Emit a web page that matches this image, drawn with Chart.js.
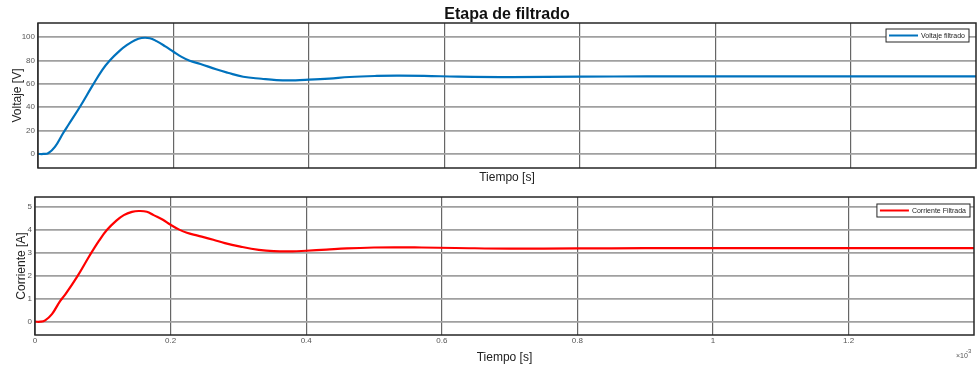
<!DOCTYPE html>
<html>
<head>
<meta charset="utf-8">
<script src="https://cdn.jsdelivr.net/npm/chart.js@4.4.1/dist/chart.umd.min.js"></script>
<style>
  html, body { margin: 0; padding: 0; background: #fff; }
  #wrap { position: relative; width: 977px; height: 368px; }
  #c1 { position: absolute; left: 0; top: 0; }
  #c2 { position: absolute; left: 0; top: 185px; }
</style>
</head>
<body>
<div id="wrap">
  <canvas id="c1" width="977" height="185"></canvas>
  <canvas id="c2" width="977" height="183"></canvas>
</div>
<script>
// tiempo en ms (el eje muestra x10^-3 s)
const tiempo = [0, 0.008, 0.015, 0.025, 0.037, 0.045, 0.062, 0.08, 0.095, 0.106, 0.12, 0.131, 0.143, 0.153,
    0.165, 0.175, 0.188, 0.2, 0.212, 0.224, 0.24, 0.263, 0.28, 0.303, 0.33, 0.352, 0.38, 0.4, 0.43, 0.46,
    0.5, 0.53, 0.57, 0.62, 0.7, 0.8, 0.9, 1.0, 1.1, 1.2, 1.3, 1.385];
const voltaje = [0, 0, 0.6, 6, 17.7, 25, 40.4, 58, 72, 80, 88, 93, 97.3, 99.2,
    99, 96.5, 92, 87.4, 83, 79.7, 77, 72.4, 69.5, 66, 64.3, 63.2, 63, 63.5, 64.5, 65.8,
    66.7, 67, 66.8, 66.1, 65.7, 66.1, 66.3, 66.3, 66.3, 66.3, 66.3, 66.3];
const corriente = [0, 0, 0.06, 0.33, 0.9, 1.2, 1.95, 2.85, 3.55, 3.99, 4.4, 4.64, 4.78, 4.82,
    4.79, 4.64, 4.45, 4.22, 4.02, 3.87, 3.75, 3.57, 3.42, 3.27, 3.13, 3.07, 3.06, 3.09, 3.14, 3.19,
    3.23, 3.24, 3.23, 3.21, 3.18, 3.19, 3.2, 3.2, 3.2, 3.2, 3.2, 3.2];
const xTicks = [0, 0.2, 0.4, 0.6, 0.8, 1, 1.2];
const vTicks = [0, 20, 40, 60, 80, 100];
const iTicks = [0, 1, 2, 3, 4, 5];

const FONT = "'Liberation Sans', Arial, Helvetica, sans-serif";

// marco completo + leyenda dentro del area
const boxPlugin = {
    id: 'boxPlugin',
    afterDraw(chart, args, opts) {
        const ctx = chart.ctx;
        const a = chart.chartArea;
        ctx.save();
        ctx.strokeStyle = '#262626';
        ctx.lineWidth = 1.5;
        ctx.strokeRect(a.left, a.top, a.right - a.left, a.bottom - a.top);

        // leyenda
        const ds = chart.data.datasets[0];
        ctx.font = '7px ' + FONT;
        const tw = ctx.measureText(ds.label).width;
        const w = 3 + 29 + 3 + tw + 4;
        const h = 13;
        const x = a.right - opts.right - w;
        const y = a.top + opts.top;
        ctx.fillStyle = '#fff';
        ctx.fillRect(x, y, w, h);
        ctx.lineWidth = 1;
        ctx.strokeStyle = '#262626';
        ctx.strokeRect(x, y, w, h);
        ctx.strokeStyle = ds.borderColor;
        ctx.lineWidth = 2;
        ctx.beginPath();
        ctx.moveTo(x + 3, y + h / 2);
        ctx.lineTo(x + 32, y + h / 2);
        ctx.stroke();
        ctx.fillStyle = '#222';
        ctx.textBaseline = 'middle';
        ctx.fillText(ds.label, x + 35, y + h / 2 + 0.5);

        if (opts.exponent) {
            ctx.fillStyle = '#555';
            ctx.font = '7px ' + FONT;
            ctx.textBaseline = 'alphabetic';
            ctx.fillText('\u00d710', 956, 173);
            ctx.font = '6px ' + FONT;
            ctx.fillText('-3', 966, 168);
        }
        ctx.restore();
    }
};

function xScale(showLabels, titlePad, height) {
    return {
        type: 'linear',
        min: 0,
        max: 1.385,
        afterBuildTicks: s => { s.ticks = xTicks.map(v => ({ value: v })); },
        ticks: {
            display: showLabels,
            padding: 1,
            font: { family: FONT, size: 8 },
            color: '#555',
            maxRotation: 0,
            callback: v => String(Number(v.toFixed(1)))
        },
        grid: { color: '#666', lineWidth: 1.2, drawTicks: false },
        border: { display: false },
        title: {
            display: true,
            text: 'Tiempo [s]',
            font: { family: FONT, size: 12 },
            color: '#222',
            padding: { top: 0, bottom: titlePad }
        },
        afterFit: s => { s.height = height; }
    };
}

function yScale(min, max, ticks, label, width, titlePad) {
    return {
        min: min,
        max: max,
        afterBuildTicks: s => { s.ticks = ticks.map(v => ({ value: v })); },
        ticks: {
            padding: 3,
            font: { family: FONT, size: 8 },
            color: '#555'
        },
        grid: { color: '#a0a0a0', lineWidth: 1.8, drawTicks: false },
        border: { display: false },
        title: {
            display: true,
            text: label,
            font: { family: FONT, size: 12 },
            color: '#222',
            padding: { top: titlePad, bottom: 0 }
        },
        afterFit: s => { s.width = width; }
    };
}

new Chart(document.getElementById('c1'), {
    type: 'line',
    data: {
        datasets: [{
            label: 'Voltaje filtrado',
            data: tiempo.map((t, i) => ({ x: t, y: voltaje[i] })),
            borderColor: '#0072BD',
            borderWidth: 2.2,
            pointRadius: 0,
            tension: 0.4,
            fill: false
        }]
    },
    options: {
        responsive: false,
        animation: false,
        layout: { padding: { left: 0, right: 1, top: 0, bottom: 0 } },
        plugins: {
            legend: { display: false },
            tooltip: { enabled: false },
            title: {
                display: true,
                text: 'Etapa de filtrado',
                fullSize: false,
                font: { family: FONT, size: 16, weight: 'bold', lineHeight: 1 },
                color: '#111',
                padding: { top: 7, bottom: 0 }
            },
            boxPlugin: { right: 7, top: 6 }
        },
        scales: {
            x: xScale(false, 0, 17),
            y: yScale(-12, 112, vTicks, 'Voltaje [V]', 38, 10)
        }
    },
    plugins: [boxPlugin]
});

new Chart(document.getElementById('c2'), {
    type: 'line',
    data: {
        datasets: [{
            label: 'Corriente Filtrada',
            data: tiempo.map((t, i) => ({ x: t, y: corriente[i] })),
            borderColor: '#FF0000',
            borderWidth: 2.2,
            pointRadius: 0,
            tension: 0.4,
            fill: false
        }]
    },
    options: {
        responsive: false,
        animation: false,
        layout: { padding: { left: 0, right: 3, top: 12, bottom: 0 } },
        plugins: {
            legend: { display: false },
            tooltip: { enabled: false },
            boxPlugin: { right: 4, top: 7, exponent: true }
        },
        scales: {
            x: xScale(true, 3, 33),
            y: yScale(-0.58, 5.43, iTicks, 'Corriente [A]', 35, 14)
        }
    },
    plugins: [boxPlugin]
});
</script>
</body>
</html>
